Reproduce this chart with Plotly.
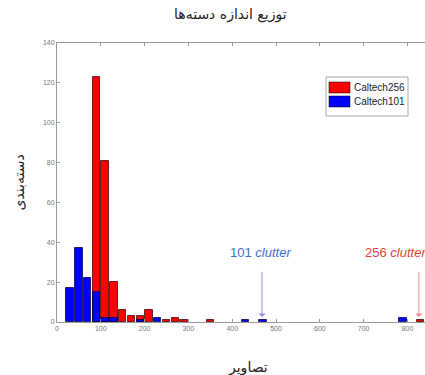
import plotly.graph_objects as go

# Histogram of images per category (bin width 20), two datasets
red_centers = [90, 110, 130, 150, 170, 190, 210, 250, 270, 290, 350, 830]
red_counts = [123, 81, 20, 6, 3, 3, 6, 1, 2, 1, 1, 1]
blue_centers = [30, 50, 70, 90, 110, 130, 190, 230, 430, 470, 790]
blue_counts = [17, 37, 22, 15, 2, 2, 1, 2, 1, 1, 2]

series_names = ["Caltech256", "Caltech101"]
series_colors = ["#ff0000", "#0000ff"]

x_ticks = [0, 100, 200, 300, 400, 500, 600, 700, 800]
y_ticks = [0, 20, 40, 60, 80, 100, 120, 140]

clutter_101_x = 468
clutter_256_x = 826

# Plot-area geometry in pixels (used to place the legend box and titles)
W, H = 425, 375
L, R, T, B = 57, 0, 43, 53
PW, PH = W - L - R, H - T - B


def px_x(p):
    return (p - L) / PW


def px_y(p):
    return (H - B - p) / PH


fig = go.Figure()
fig.add_trace(go.Bar(
    x=red_centers, y=red_counts, width=17, name=series_names[0], showlegend=False,
    marker=dict(color=series_colors[0], line=dict(color="rgba(60,0,0,0.75)", width=1)),
))
fig.add_trace(go.Bar(
    x=blue_centers, y=blue_counts, width=17, name=series_names[1], showlegend=False,
    marker=dict(color=series_colors[1], line=dict(color="rgba(0,0,60,0.75)", width=1)),
))

axis_gray = "#9a9a9a"
tick_font = dict(family="Liberation Sans, Arial, sans-serif", size=7, color="#777")

fig.update_layout(
    width=W, height=H,
    margin=dict(l=L, r=R, t=T, b=B),
    paper_bgcolor="white", plot_bgcolor="white",
    barmode="overlay",
    bargap=0,
    xaxis=dict(
        range=[0, 840], tickvals=x_ticks, ticktext=[str(v) for v in x_ticks],
        showgrid=False, zeroline=False, showline=True, linecolor=axis_gray, linewidth=1,
        ticks="inside", ticklen=3, tickcolor=axis_gray, mirror="ticks",
        tickfont=tick_font,
    ),
    yaxis=dict(
        range=[0, 140], tickvals=y_ticks, ticktext=[str(v) for v in y_ticks],
        showgrid=False, zeroline=False, showline=True, linecolor=axis_gray, linewidth=1,
        ticks="inside", ticklen=3, tickcolor=axis_gray, mirror=False,
        tickfont=tick_font,
    ),
)

# Legend box drawn with shapes so the patches keep their wide aspect
fig.add_shape(type="rect", xref="paper", yref="paper",
              x0=px_x(326), x1=px_x(408), y0=px_y(116), y1=px_y(77),
              line=dict(color="#aaa", width=1), fillcolor="white", layer="above")
for i, (name, color) in enumerate(zip(series_names, series_colors)):
    top = 82 + i * 14
    fig.add_shape(type="rect", xref="paper", yref="paper",
                  x0=px_x(329), x1=px_x(350), y0=px_y(top + 11), y1=px_y(top),
                  line=dict(color="rgba(0,0,0,0.5)", width=1), fillcolor=color, layer="above")
    fig.add_annotation(text=name, xref="paper", yref="paper",
                       x=px_x(352), y=px_y(top + 5.5), showarrow=False,
                       xanchor="left", yanchor="middle",
                       font=dict(family="Liberation Sans, Arial, sans-serif", size=10, color="#222"))

persian_font = dict(family="DejaVu Sans, Noto Sans, sans-serif", size=14, color="#222")

fig.add_annotation(text="توزیع اندازه دسته‌ها", xref="paper", yref="paper",
                   x=px_x(230), y=px_y(15), showarrow=False,
                   font=persian_font, xanchor="center", yanchor="middle")
fig.add_annotation(text="تصاویر", xref="paper", yref="paper",
                   x=px_x(248), y=px_y(367), showarrow=False,
                   font=persian_font, xanchor="center", yanchor="middle")
fig.add_annotation(text="دسته‌بندی", xref="paper", yref="paper",
                   x=px_x(18), y=0.5, showarrow=False, textangle=-90,
                   font=persian_font, xanchor="center", yanchor="middle")

# Clutter markers: arrows with labels
fig.add_annotation(x=clutter_101_x, y=2.5, ax=clutter_101_x, ay=26,
                   xref="x", yref="y", axref="x", ayref="y", text="",
                   showarrow=True, arrowhead=1, arrowsize=1.2, arrowwidth=1,
                   arrowcolor="#8f8fe6")
fig.add_annotation(x=clutter_256_x, y=2.5, ax=clutter_256_x, ay=26,
                   xref="x", yref="y", axref="x", ayref="y", text="",
                   showarrow=True, arrowhead=1, arrowsize=1.2, arrowwidth=1,
                   arrowcolor="#f08a8a")
fig.add_annotation(x=465, y=35, xref="x", yref="y", text="101 <i>clutter</i>",
                   showarrow=False, xanchor="center", yanchor="middle",
                   font=dict(family="Liberation Sans, Arial, sans-serif", size=13, color="#3f6fcc"))
fig.add_annotation(x=698, y=35, xref="x", yref="y", text="256 <i>clutter</i>",
                   showarrow=False, xanchor="left", yanchor="middle",
                   font=dict(family="Liberation Sans, Arial, sans-serif", size=13, color="#e5413c"))

fig.write_html("out.html")
